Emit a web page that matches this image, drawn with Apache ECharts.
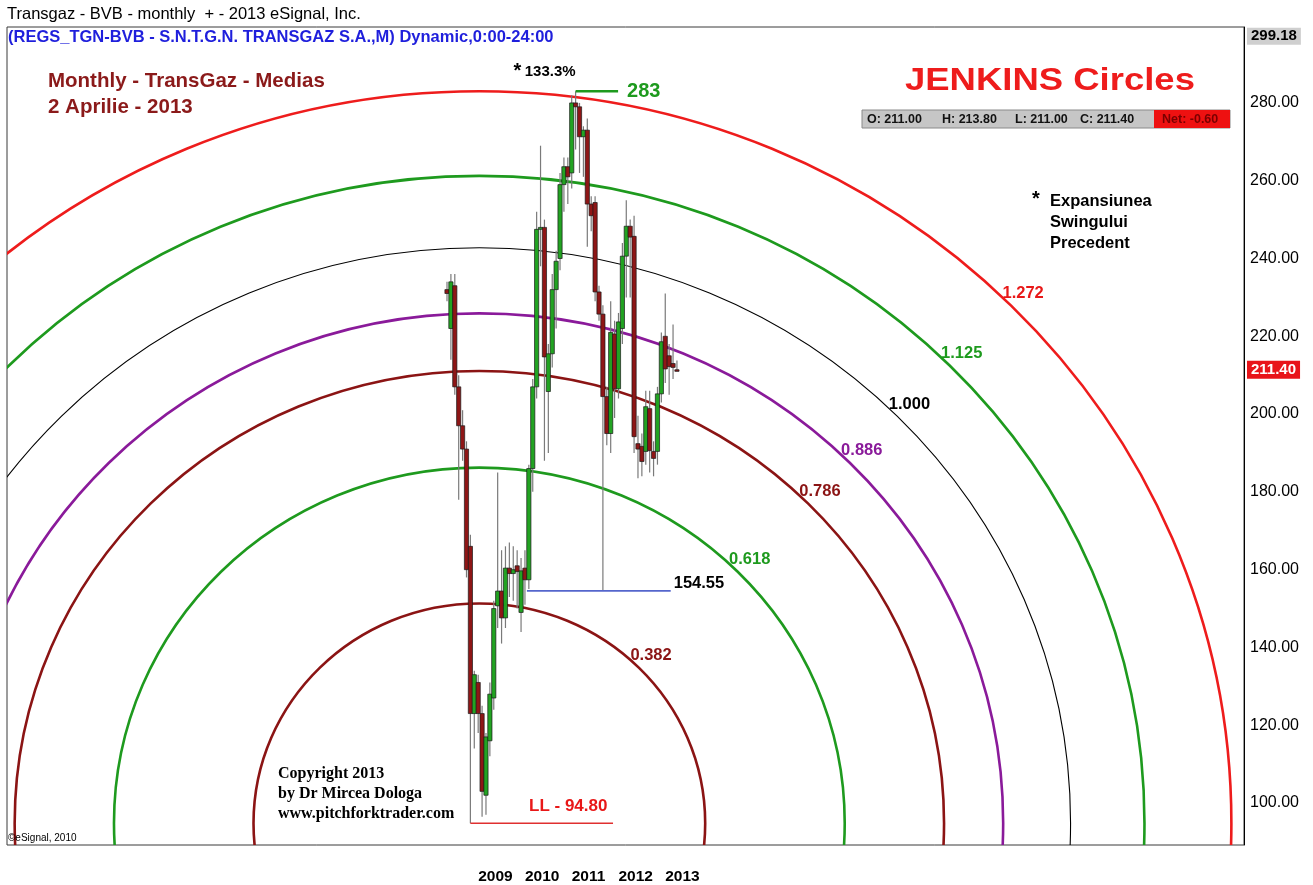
<!DOCTYPE html>
<html>
<head>
<meta charset="utf-8">
<script src="https://cdn.jsdelivr.net/npm/echarts@6/dist/echarts.min.js"></script>
<style>html,body{margin:0;padding:0;background:#fff}#c{width:1313px;height:885px}</style>
</head>
<body>
<div id="c"></div>
<script>
// ---- data (monthly candles) ----
const months = ['2008-05','2008-06','2008-07','2008-08','2008-09','2008-10','2008-11','2008-12',
 '2009-01','2009-02','2009-03','2009-04','2009-05','2009-06','2009-07','2009-08','2009-09','2009-10','2009-11','2009-12',
 '2010-01','2010-02','2010-03','2010-04','2010-05','2010-06','2010-07','2010-08','2010-09','2010-10','2010-11','2010-12',
 '2011-01','2011-02','2011-03','2011-04','2011-05','2011-06','2011-07','2011-08','2011-09','2011-10','2011-11','2011-12',
 '2012-01','2012-02','2012-03','2012-04','2012-05','2012-06','2012-07','2012-08','2012-09','2012-10','2012-11','2012-12',
 '2013-01','2013-02','2013-03','2013-04'];
const open  = [232,222,233,207,197,191,166,123,131,123,102,116,127,150.7,154.5,147.6,160.4,159,161,149,160.4,157.4,186,207,247.5,248,205.8,215.5,232,240,259,263.6,262,280,279,271.3,273,254,254.4,231.4,225.7,204.5,195,220.6,206.5,222,240.6,248.3,245.7,192.4,191.7,190.4,201.4,190.4,190.4,205.2,220,215,213,211];
const high  = [234,236,236,210,201,193,169,134,133,125,118,131,152,185,165,166,167,166,165,163,165,187,209,252,269,250,218,236,242,262,266,266,282,283,280,274,276,256,256,233,228,207,229,224,226,244,255,250,251,199.6,195,206,206,193,207,221,231,218,223,213.8];
const low   = [229,214,205,178,188,158,94.8,114,118,96.5,97,112,124,145,141,145,153,152,150,144,151,155,180,204,238,188,190,212,222,237,252,254,258,268,262,261,243,247,229,224,154.55,192,190,199,204,218,230,230,190,183.5,184,187,185,184,187,203,208,205,209,211];
const close = [231,234,207,197,191,160,123,133,123,103,117,128,150,154.5,147.6,160.4,159,160,159.5,159.7,157.4,186,207,247.5,248,214.7,215.5,232,239.3,259,263.6,261,280,279,271.3,273,254,251,231.4,225.7,204.5,195,221,206.5,223.7,240.6,248.3,245.5,194.2,191,187.8,201.9,190.6,188.6,205.2,218.6,211.6,212.2,212.0,211.4];

const circleRatios = [0.382, 0.618, 0.786, 0.886, 1.000, 1.125, 1.272];
const circleColors = ['#8b1414', '#1e9a1e', '#8b1414', '#8a1a9a', '#000000', '#1e9a1e', '#ee1c1c'];
const circleWidths = [2.6, 2.6, 2.6, 2.6, 1.1, 2.6, 2.6];
const circleCenterMonth = 8.3;          // centre of the circles on the time axis
const circleRadiusMonths = 151.7;       // horizontal radius of the 1.000 circle, in months
const yTicks = [100, 120, 140, 160, 180, 200, 220, 240, 260, 280];
const axisTopValue = 299.18;

const swingLowValue = 154.55;
const highMark  = [[33, 283], [43.9, 283]];
const swingMark = [[20.5, swingLowValue], [57.4, swingLowValue]];

// ---- derived ----
const n = close.length - 1;
const llValue = Math.min(...low);
const llIndex = low.indexOf(llValue);
const hhValue = Math.max(...high);
const circleRadiusPrice = (hhValue - llValue) / circleRatios[circleRatios.length - 1];
const llMark = [[llIndex, llValue], [42.6, llValue]];
const yearIdx = months.map((m, i) => m.endsWith('-01') ? i : -1).filter(i => i >= 0);
const candleData = months.map((m, i) => [i, open[i], high[i], low[i], close[i]]);
const netChange = close[n] - close[n - 1];

const FS = '"Liberation Sans", Arial, sans-serif';
const GREEN = '#1e9a1e', RED = '#ee1c1c';
const CLEAR = 'rgba(0,0,0,0)';

function renderCandle(params, api) {
  const j = api.value(0), o = api.value(1), h = api.value(2), l = api.value(3), c = api.value(4);
  const idx = params.dataIndex;
  const pH = api.coord([j, h]), pL = api.coord([j, l]);
  const pO = api.coord([j, o]), pC = api.coord([j, c]);
  let up = c > o;
  if (Math.abs(c - o) < 0.5 && idx > 0) up = c >= close[idx - 1];
  const w = 4.2;
  const top = Math.min(pO[1], pC[1]);
  const hh = Math.max(1.6, Math.abs(pO[1] - pC[1]));
  return {
    type: 'group',
    children: [
      { type: 'line', shape: { x1: pH[0], y1: pH[1], x2: pL[0], y2: pL[1] }, style: { stroke: '#7a7a7a', lineWidth: 1.2 } },
      { type: 'rect', shape: { x: pO[0] - w / 2, y: top, width: w, height: hh },
        style: { fill: up ? '#22a322' : '#8e1616', stroke: '#1a1a1a', lineWidth: 0.7 } }
    ]
  };
}

function renderCircle(params, api) {
  const k = api.value(0);
  const i = params.dataIndex;
  const ctr = api.coord([circleCenterMonth, llValue]);
  const sz = api.size([circleRadiusMonths * k, circleRadiusPrice * k]);
  const rx = sz[0], ry = sz[1];
  const cs = params.coordSys;
  const th = Math.PI / 4;
  return {
    type: 'group',
    children: [
      { type: 'ellipse', shape: { cx: ctr[0], cy: ctr[1], rx: rx, ry: ry },
        style: { fill: 'none', stroke: circleColors[i], lineWidth: circleWidths[i] },
        clipPath: { type: 'rect', shape: { x: cs.x, y: cs.y, width: cs.width, height: cs.height } } },
      { type: 'text', x: ctr[0] + (rx + 17) * Math.cos(th), y: ctr[1] - (ry + 17) * Math.sin(th),
        style: { text: k.toFixed(3), fill: circleColors[i] === RED ? '#e81818' : circleColors[i],
                 font: 'bold 16.5px ' + FS, align: 'center', verticalAlign: 'middle' } }
    ]
  };
}

const chart = echarts.init(document.getElementById('c'), null, { renderer: 'canvas' });

const txt = (x, y, text, font, fill, extra) => Object.assign({
  type: 'text', x: x, y: y, z: 10,
  style: { text: text, font: font, fill: fill, align: 'left', verticalAlign: 'middle' }
}, extra || {});

chart.setOption({
  animation: false,
  backgroundColor: '#fff',
  grid: { left: 7, right: 69, top: 27, bottom: 39, show: true, borderColor: '#3a3a3a', borderWidth: 1 },
  xAxis: {
    type: 'value', min: -112.9, max: 204.5,
    axisLine: { show: false, onZero: false }, axisTick: { show: false }, splitLine: { show: false },
    axisLabel: {
      customValues: yearIdx, formatter: v => months[Math.round(v)].slice(0, 4),
      align: 'left', margin: 24, fontSize: 15.5, fontWeight: 'bold', color: '#000', fontFamily: FS
    }
  },
  yAxis: {
    type: 'value', position: 'right', min: 89.21, max: 299.52,
    axisLine: { show: true, onZero: false, lineStyle: { color: '#000', width: 1 } },
    axisTick: { show: false }, splitLine: { show: false },
    axisLabel: { customValues: yTicks, formatter: v => v.toFixed(2), fontSize: 16, color: '#000', margin: 6, fontFamily: FS }
  },
  series: [
    { type: 'custom', name: 'circles', z: 1, renderItem: renderCircle, data: circleRatios.map(k => [k]), silent: true },
    { type: 'custom', name: 'candles', z: 3, renderItem: renderCandle, data: candleData,
      encode: { x: 0, y: [1, 2, 3, 4] }, silent: true },
    { type: 'line', name: 'high', z: 4, data: highMark, symbol: 'none', silent: true,
      lineStyle: { color: GREEN, width: 2.6 },
      endLabel: { show: true, formatter: hhValue.toFixed(0), color: GREEN, fontSize: 20, fontWeight: 'bold', distance: 9, fontFamily: FS },
      markPoint: {
        symbol: 'circle', symbolSize: 1, itemStyle: { color: CLEAR, borderColor: CLEAR }, silent: true,
        label: { show: true, position: 'top', distance: 8, align: 'right',
          formatter: '{a|*} {b|133.3%}',
          rich: { a: { fontSize: 20, fontWeight: 'bold', color: '#000', fontFamily: FS },
                  b: { fontSize: 15, fontWeight: 'bold', color: '#000', fontFamily: FS } } },
        data: [{ coord: [33, hhValue] }]
      }
    },
    { type: 'line', name: 'swing', z: 4, data: swingMark, symbol: 'none', silent: true,
      lineStyle: { color: '#5566cc', width: 1.6 },
      endLabel: { show: true, formatter: swingLowValue.toFixed(2), color: '#000', fontSize: 16.5, fontWeight: 'bold', distance: 3, offset: [0, -7], fontFamily: FS }
    },
    { type: 'line', name: 'll', z: 4, data: llMark, symbol: 'none', silent: true, clip: false,
      lineStyle: { color: '#e03030', width: 1.5 },
      endLabel: { show: true, formatter: 'LL - ' + llValue.toFixed(2), color: '#e81818', fontSize: 17, fontWeight: 'bold', distance: 5, offset: [-89, -17], fontFamily: FS },
      markLine: {
        silent: true, symbol: ['none', 'none'], lineStyle: { color: CLEAR, width: 0 },
        data: [
          { yAxis: close[n], label: { show: true, position: 'end', distance: 3, formatter: close[n].toFixed(2),
              backgroundColor: '#e8141a', color: '#fff', fontWeight: 'bold', fontSize: 15, padding: [2, 4, 1, 4], fontFamily: FS } },
          { yAxis: axisTopValue, label: { show: true, position: 'end', distance: 3, offset: [0, 8], formatter: axisTopValue.toFixed(2),
              backgroundColor: '#cfcfcf', color: '#000', fontWeight: 'bold', fontSize: 15, padding: [1, 4, 1, 4], fontFamily: FS } }
        ]
      }
    }
  ],
  graphic: [
    txt(7, 14, 'Transgaz - BVB - monthly  + - 2013 eSignal, Inc.', '16.5px ' + FS, '#000'),
    txt(8, 37, '(REGS_TGN-BVB - S.N.T.G.N. TRANSGAZ S.A.,M) Dynamic,0:00-24:00', 'bold 16.5px ' + FS, '#1f1fdc'),
    txt(48, 81, 'Monthly - TransGaz - Medias', 'bold 20.5px ' + FS, '#8b1a1a'),
    txt(48, 107, '2 Aprilie - 2013', 'bold 20.5px ' + FS, '#8b1a1a'),
    txt(905, 81, 'JENKINS Circles', 'bold 32px ' + FS, RED, { scaleX: 1.14 }),
    { type: 'rect', z: 9, shape: { x: 862, y: 110, width: 368, height: 18 }, style: { fill: '#c6c6c6', stroke: '#8a8a8a', lineWidth: 1 } },
    { type: 'rect', z: 9, shape: { x: 1154, y: 110, width: 76, height: 18 }, style: { fill: '#ee1111' } },
    txt(867, 119.5, 'O: ' + open[n].toFixed(2), 'bold 12.5px ' + FS, '#111'),
    txt(942, 119.5, 'H: ' + high[n].toFixed(2), 'bold 12.5px ' + FS, '#111'),
    txt(1015, 119.5, 'L: ' + low[n].toFixed(2), 'bold 12.5px ' + FS, '#111'),
    txt(1080, 119.5, 'C: ' + close[n].toFixed(2), 'bold 12.5px ' + FS, '#111'),
    txt(1162, 119.5, 'Net: ' + netChange.toFixed(2), 'bold 12.5px ' + FS, '#7a0000'),
    txt(1032, 199, '*', 'bold 20px ' + FS, '#000'),
    txt(1050, 201, 'Expansiunea', 'bold 16.5px ' + FS, '#000'),
    txt(1050, 222, 'Swingului', 'bold 16.5px ' + FS, '#000'),
    txt(1050, 243, 'Precedent', 'bold 16.5px ' + FS, '#000'),
    txt(278, 774, 'Copyright 2013', 'bold 16px "Liberation Serif", "Times New Roman", serif', '#000'),
    txt(278, 794, 'by Dr Mircea Dologa', 'bold 16px "Liberation Serif", "Times New Roman", serif', '#000'),
    txt(278, 814, 'www.pitchforktrader.com', 'bold 16px "Liberation Serif", "Times New Roman", serif', '#000'),
    txt(8, 838, '\u00A9eSignal, 2010', '10px ' + FS, '#000')
  ]
});
</script>
</body>
</html>
